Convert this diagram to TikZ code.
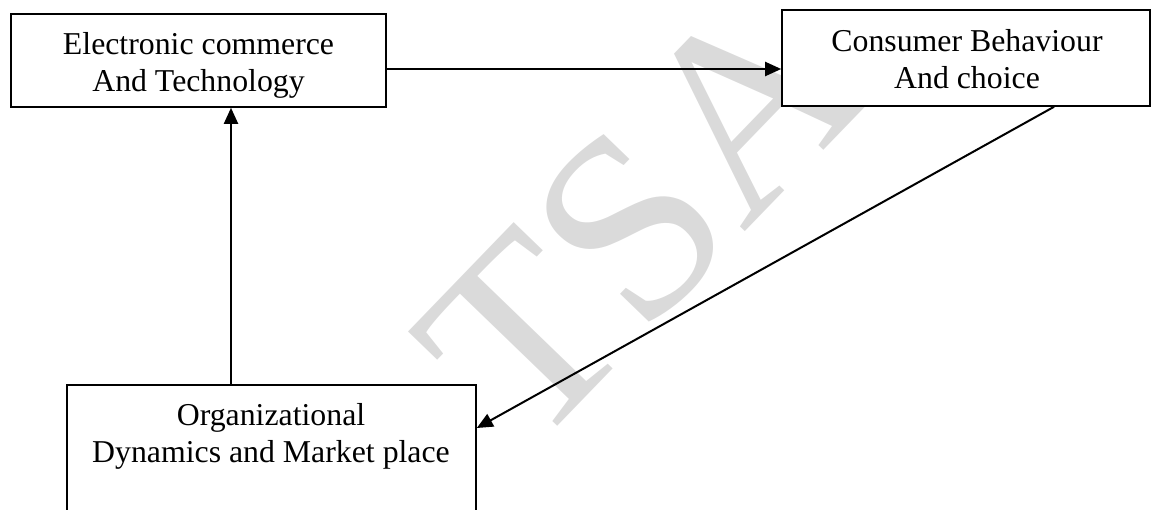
\documentclass[tikz,border=0pt]{standalone}
\usepackage{fontspec}
\setmainfont{Liberation Serif}
\usetikzlibrary{arrows.meta}
\definecolor{wmgray}{RGB}{218,218,218}
\begin{document}
\begin{tikzpicture}[x=1pt,y=-1pt,
  box/.style={draw=black, line width=1.6pt, fill=white, inner sep=0pt, rectangle},
  boxtext/.style={font=\fontsize{31.8}{37}\selectfont, align=center, inner sep=0pt, anchor=north},
  arr/.style={line width=2pt, -{Triangle[length=16pt,width=14pt]}},
  wmtext/.style={text=wmgray, font=\fontsize{264}{264}\selectfont, inner sep=0pt}]
\useasboundingbox (0,0) rectangle (1153,509);
\clip (0,0) rectangle (1153,509);

% background watermark
\node[wmtext, rotate=46] (wm) at (641,216) {TSA};

% boxes
\node[box, minimum width=375pt, minimum height=93pt] (ec) at (198.5,60.5) {};
\node[boxtext] (ect) at (198.5,32.3) {Electronic commerce\\And Technology};

\node[box, minimum width=368pt, minimum height=96pt] (cb) at (966,58) {};
\node[boxtext] (cbt) at (967,29) {Consumer Behaviour\\And choice};

\node[box, minimum width=409pt, minimum height=150pt] (om) at (271.5,460) {};
\node[boxtext] (omt) at (271,403.3) {Organizational\\Dynamics and Market place};

% connectors
\coordinate (h0) at ([yshift=-8.5pt]ec.east);
\draw[arr] (h0) -- (h0 -| cb.west);
\coordinate (v0) at ([xshift=-40.5pt]om.north);
\draw[arr] (v0) -- (v0 |- ec.south);
\coordinate (d0) at ([xshift=88pt]cb.south);
\coordinate (d1) at ([yshift=32pt]om.east);
\draw[arr] (d0) -- (d1);
\end{tikzpicture}
\end{document}
